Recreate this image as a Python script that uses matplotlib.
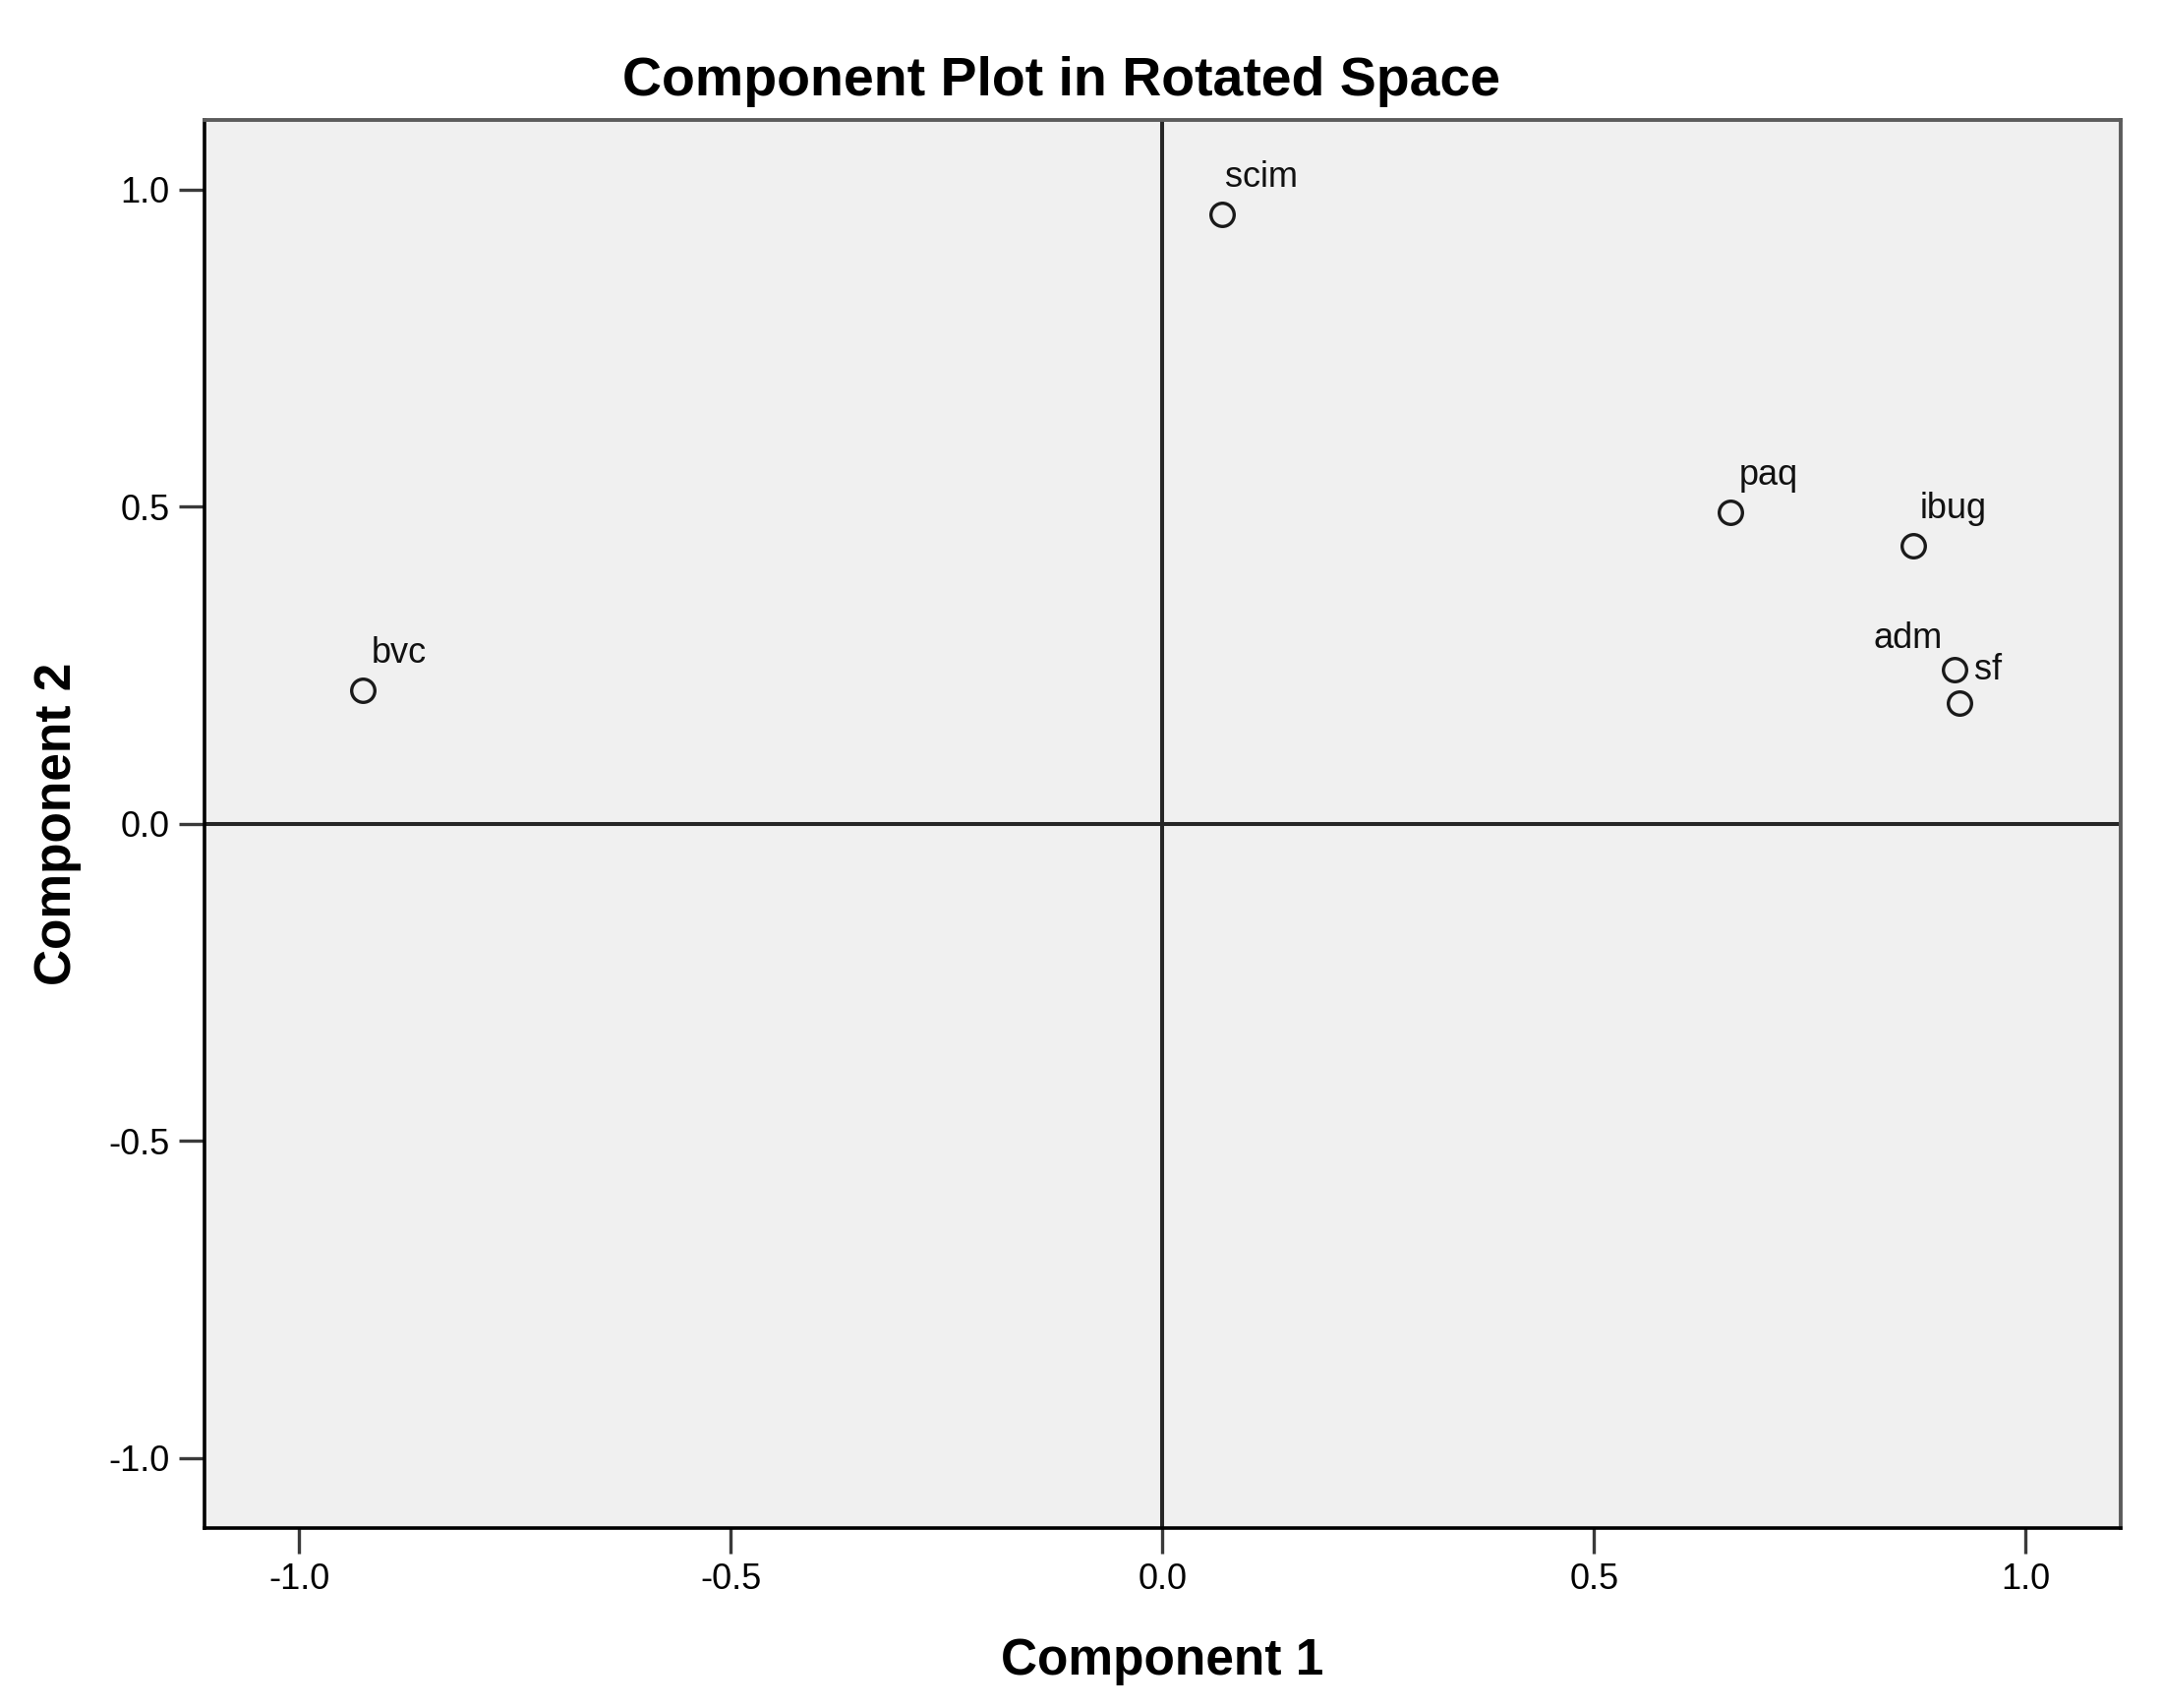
import matplotlib
matplotlib.use("Agg")
import matplotlib.pyplot as plt

# component loadings
variables = ["bvc", "scim", "paq", "ibug", "adm", "sf"]
comp1 = [-0.926, 0.069, 0.658, 0.870, 0.918, 0.923]
comp2 = [0.211, 0.961, 0.491, 0.439, 0.243, 0.191]

ticks = [-1.0, -0.5, 0.0, 0.5, 1.0]
tick_labels = ["-1.0", "-0.5", "0.0", "0.5", "1.0"]

# where each label sits relative to its point (points), SPSS-style
label_offsets = {
    "bvc": (6, 20, "left"),
    "scim": (2, 20, "left"),
    "paq": (6, 20, "left"),
    "ibug": (5, 20, "left"),
    "adm": (-9, 16, "right"),
    "sf": (11, 17, "left"),
}

plt.rcParams["font.family"] = ["Liberation Sans", "DejaVu Sans"]
plt.rcParams["axes.unicode_minus"] = False

fig = plt.figure(figsize=(21.99, 17.37), dpi=100)
ax = fig.add_axes([0.0944, 0.1054, 0.8864, 0.8244])
ax.set_facecolor("#f0f0f0")

ax.axhline(0, color="#262626", lw=2.9, zorder=1)
ax.axvline(0, color="#262626", lw=2.9, zorder=1)

ax.plot(comp1, comp2, "o", ms=17, mfc="none", mec="#1a1a1a", mew=2.4,
        zorder=3)

for name, x, y in zip(variables, comp1, comp2):
    dx, dy, ha = label_offsets[name]
    ax.annotate(name, (x, y), xytext=(dx, dy), textcoords="offset points",
                ha=ha, va="baseline", fontsize=26, color="#111111")

ax.set_xlim(-1.11, 1.11)
ax.set_ylim(-1.11, 1.11)
ax.set_xticks(ticks)
ax.set_xticklabels(tick_labels)
ax.set_yticks(ticks)
ax.set_yticklabels(tick_labels)
ax.tick_params(direction="out", length=19, width=2.4, color="#3a3a3a",
               labelsize=26, pad=6)

for side in ["left", "bottom"]:
    ax.spines[side].set_color("black")
    ax.spines[side].set_linewidth(2.6)
for side in ["top", "right"]:
    ax.spines[side].set_color("#5c5c5c")
    ax.spines[side].set_linewidth(2.8)

ax.set_xlabel("Component 1", fontsize=37, fontweight="bold", labelpad=30)
ax.set_ylabel("Component 2", fontsize=37, fontweight="bold", labelpad=20)

fig.suptitle("Component Plot in Rotated Space", x=0.491, y=0.944,
             va="baseline", fontsize=40, fontweight="bold")

fig.savefig("out.png", dpi=100)
